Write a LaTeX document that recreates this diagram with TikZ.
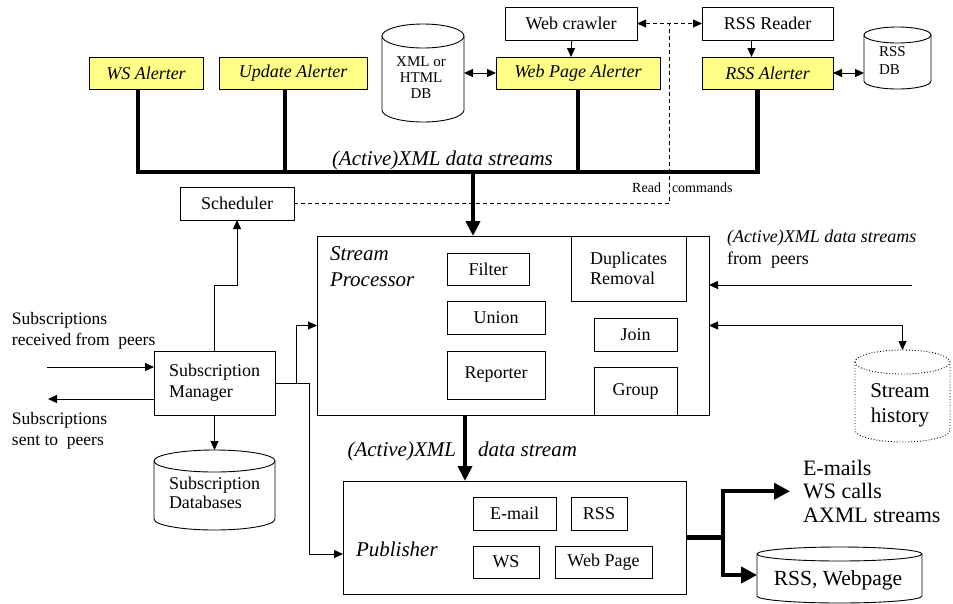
\documentclass[tikz,border=0pt]{standalone}
\usepackage{fontspec}
\setmainfont{Liberation Serif}
\usetikzlibrary{arrows.meta,calc}
\definecolor{alertyellow}{RGB}{255,255,135}
\newcommand\fsz[2]{\fontsize{#1}{#2}\selectfont}
\newcommand\drawcyl[7]{%
 \pgfmathsetmacro\cylcx{(#2+#4)/2}%
 \pgfmathsetmacro\cylcy{-(#3+#5)/2}%
 \pgfmathsetmacro\cylrx{(#4-#2)/2}%
 \pgfmathsetmacro\cylw{#4-#2}%
 \pgfmathsetmacro\cylh{#5-#3}%
 \filldraw[fill=white,line width=0.9pt,#7] (#2,-#3-#6) -- (#2,-#5+#6) arc[start angle=180,end angle=360,x radius=\cylrx,y radius=#6] -- (#4,-#3-#6) arc[start angle=0,end angle=180,x radius=\cylrx,y radius=#6] -- cycle;
 \draw[line width=0.9pt,#7] (#2,-#3-#6) arc[start angle=180,end angle=360,x radius=\cylrx,y radius=#6];
 \node[minimum width=\cylw pt,minimum height=\cylh pt] (#1) at (\cylcx,\cylcy) {};
}
\begin{document}
\begin{tikzpicture}[x=1pt,y=1pt,
 every node/.style={inner sep=0pt,outer sep=0pt},
 box/.style={draw,line width=0.9pt,fill=white,font=\fsz{18}{20},align=center},
 alert/.style={box,fill=alertyellow,font=\fsz{18}{20}\itshape},
 arr/.style={line width=0.9pt,-{Triangle[length=9pt,width=8pt]}},
 darr/.style={line width=0.9pt,{Triangle[length=9pt,width=8pt]}-{Triangle[length=9pt,width=8pt]}},
 dsh/.style={line width=0.9pt,dash pattern=on 4pt off 3pt},
 fat/.style={line width=4.5pt},
 fatarr/.style={line width=4.5pt,-{Triangle[length=15pt,width=14pt]}},
 outarr/.style={line width=4.5pt,-{Triangle[length=16pt,width=16pt]}},
 lbl/.style={font=\fsz{18}{21},align=left}]
\useasboundingbox (0,0) rectangle (953,-603);

% top row
\node[alert,minimum width=114pt,minimum height=32pt] (wsa) at (146,-73) {WS Alerter};
\node[alert,minimum width=148pt,minimum height=32pt] (upa) at (293,-73) {Update Alerter};
\node[alert,minimum width=164pt,minimum height=32pt] (wpa) at (578,-73) {Web Page Alerter};
\node[alert,minimum width=131pt,minimum height=32pt] (rssa) at (767.5,-73) {RSS Alerter};
\node[box,minimum width=132pt,minimum height=33pt] (wc) at (571,-23.5) {Web crawler};
\node[box,minimum width=131pt,minimum height=33pt] (rr) at (767.5,-23.5) {RSS Reader};

\drawcyl{xmldb}{382}{24}{464}{122}{12}{}
\node[font=\fsz{15}{16},align=center,anchor=north] (xmldbt) at (421,-56.5) {XML or\\HTML\\DB};
\drawcyl{rssdb}{864}{27}{931}{89}{8}{}
\node[font=\fsz{15}{18},align=left,anchor=north west] (rssdbt) at (879,-46.5) {RSS\\DB};

% scheduler, processor
\node[box,minimum width=114pt,minimum height=33pt] (sched) at (237,-203.5) {Scheduler};
\node[box,minimum width=392pt,minimum height=179pt] (sp) at (513,-325.5) {};
\node[anchor=north west,align=left,font=\fsz{21}{26}\itshape] (sptext) at (330,-247) {Stream\\Processor};
\node[box,minimum width=82pt,minimum height=32pt] (filter) at (488,-269) {Filter};
\node[box,minimum width=98pt,minimum height=33pt] (union) at (496,-317.5) {Union};
\node[box,minimum width=98pt,minimum height=48pt] (reporter) at (496,-375) {Reporter};
\node[box,minimum width=115pt,minimum height=65pt,align=left] (dup) at (628.5,-268.5) {Duplicates\\Removal};
\node[box,minimum width=83pt,minimum height=33pt] (join) at (635.5,-334.5) {Join};
\node[box,minimum width=83pt,minimum height=48pt] (group) at (635.5,-391) {Group};

\drawcyl{sh}{855}{350}{950}{442}{12}{dotted}
\node[font=\fsz{21}{25},align=center,anchor=north] (sht) at (900,-383.5) {Stream\\history};

% subscription manager
\node[box,minimum width=121pt,minimum height=64pt,align=left,font=\fsz{18}{21}] (sm) at (214.5,-383) {Subscription\\Manager};
\drawcyl{subdb}{154}{450}{275}{530}{11}{}
\node[font=\fsz{18}{19},align=left,anchor=north west] (subdbt) at (169,-477.5) {Subscription\\Databases};

\node[lbl,anchor=north west,font=\fsz{17.5}{21}] (subrec) at (12,-312) {Subscriptions\\received from\hspace{0.5em}peers};
\node[lbl,anchor=north west,font=\fsz{17.5}{21}] (subsent) at (12,-412) {Subscriptions\\sent to\hspace{0.5em}peers};

% publisher
\node[box,minimum width=343pt,minimum height=113pt] (pub) at (514.5,-537.5) {};
\node[anchor=base west,font=\fsz{21}{25}\itshape] (pubtext) at (356,-556) {Publisher};
\node[box,minimum width=83pt,minimum height=33pt] (email) at (514.5,-513.5) {E-mail};
\node[box,minimum width=56pt,minimum height=33pt] (rss) at (599,-513.5) {RSS};
\node[box,minimum width=66pt,minimum height=32pt] (ws) at (506,-562) {WS};
\node[box,minimum width=97pt,minimum height=32pt] (webpage) at (603.5,-562) {Web Page};

\drawcyl{rsswp}{757}{547}{922}{603}{7}{}
\node[anchor=base,font=\fsz{21.5}{25}] (rsswpt) at (838,-585) {RSS, Webpage};
\node[anchor=north west,align=left,font=\fsz{22}{23.5}] (outtext) at (803,-460) {E-mails\\WS calls\\AXML streams};

% labels
\node[anchor=base west,font=\fsz{21}{25}\itshape] (buslbl) at (332,-165) {(Active)XML data streams};
\node[anchor=base east,font=\fsz{14}{16}] (readl) at (661,-192) {Read};
\node[anchor=base west,font=\fsz{14}{16}] (cmdl) at (672,-192) {commands};
\node[anchor=base east,font=\fsz{21}{25}\itshape] (axl) at (456,-456) {(Active)XML};
\node[anchor=base west,font=\fsz{21}{25}\itshape] (dsl) at (478,-456) {data stream};
\node[anchor=north west,align=left,font=\fsz{18}{22}] (peerlbl) at (727,-230.5) {\textit{(Active)XML data streams}\\from\hspace{0.5em}peers};

% coordinates
\coordinate (bus) at (473,-172);
\coordinate (rc) at (669,-23.5);
\coordinate (subin) at (47,-367);
\coordinate (subout) at (48,-399);
\coordinate (peerin) at (912,-285);

% thick bus
\draw[fat] ([xshift=-8pt]wsa.south) -- ++(0,-83) -| ([xshift=-10pt]rssa.south);
\draw[fat] ([xshift=-8pt]upa.south) -- ([xshift=-8pt]upa.south |- bus);
\draw[fat] (wpa.south) -- (wpa.south |- bus);
\draw[fatarr] ([yshift=2pt]bus) -- (bus |- sp.north);
\draw[fatarr] ([xshift=-48pt]sp.south) -- ([xshift=-48pt]sp.south |- pub.north);

% top connectors
\draw[arr] (wc.south) -- (wc.south |- wpa.north);
\draw[arr] ([xshift=-16pt]rr.south) -- ([xshift=-16pt]rr.south |- rssa.north);
\draw[darr] (wpa.west) -- (wpa.west -| xmldb.east);
\draw[darr] (rssa.east) -- (rssa.east -| rssdb.west);
\draw[dsh,{Triangle[length=9pt,width=8pt]}-{Triangle[length=9pt,width=8pt]}] (wc.east) -- (rr.west);
\draw[dsh] (sched.east) -| (rc);

% subscription manager connectors
\draw[arr] (sm.north) -- ++(0,66) -| (sched.south);
\draw[arr] (sm.east) -- ++(21,0) |- (sp.west);
\draw[arr] (sm.east) -- ++(34,0) |- ([yshift=-16.5pt]pub.west);
\draw[arr] (subin) -- (subin -| sm.west);
\draw[arr] (subout -| sm.west) -- (subout);
\draw[arr] (sm.south) -- (subdb.north);

% right side
\draw[arr] (peerin) -- (peerin -| sp.east);
\draw[darr] (sp.east) -| (sh.north);

% outputs
\draw[outarr,shorten >=13pt] (pub.east) -- ++(37,0) |- (outtext.west);
\draw[outarr] (pub.east) -- ++(37,0) |- (rsswp.west);
\end{tikzpicture}
\end{document}
